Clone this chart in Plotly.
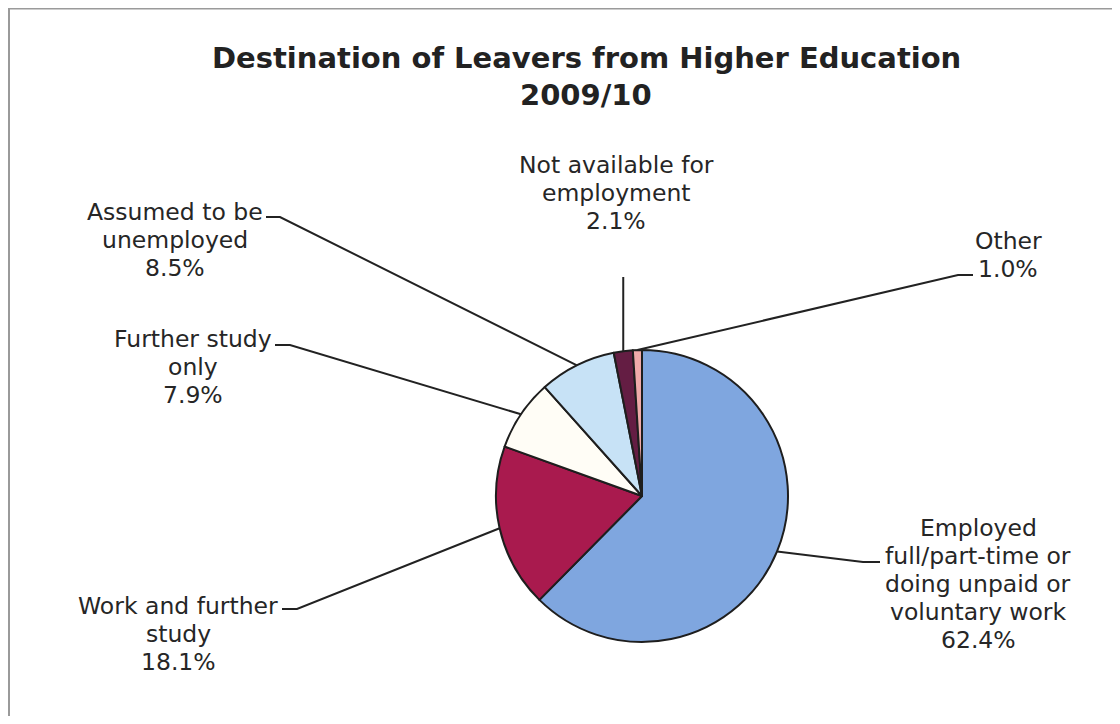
import math
import plotly.graph_objects as go

# ---- data ----
categories = [
    "Employed full/part-time or doing unpaid or voluntary work",
    "Work and further study",
    "Further study only",
    "Assumed to be unemployed",
    "Not available for employment",
    "Other",
]
values = [62.4, 18.1, 7.9, 8.5, 2.1, 1.0]
label_lines = [
    ["Employed", "full/part-time or", "doing unpaid or", "voluntary work"],
    ["Work and further", "study"],
    ["Further study", "only"],
    ["Assumed to be", "unemployed"],
    ["Not available for", "employment"],
    ["Other"],
]
colors = ["#7FA6DF", "#A91A4E", "#FFFDF6", "#C7E2F6", "#641D43", "#F0AAAA"]

# ---- layout helpers (window pixel positions; page body has an 8px margin) ----
OFF = 8
W, H = 1120 - 2 * OFF, 724 - 2 * OFF
CX, CY, R = 642, 496, 146


def px(x):
    return (x - OFF) / W


def py(y):
    return 1 - (y - OFF) / H


# label placement: (center x, first line y, leader elbow, leader end)
label_pos = [
    (978, 528, (863, 562), (880, 562)),
    (178, 606, (297, 609), (282, 609)),
    (193, 339, (290, 345), (275, 345)),
    (175, 212, (280, 217), (266, 217)),
    (616, 165, None, (None, 277)),
    (1008, 241, (958, 275), (973, 275)),
]
LINE_GAP = 28

fig = go.Figure()
fig.add_trace(go.Pie(
    labels=categories,
    values=values,
    sort=False,
    direction="clockwise",
    rotation=0,
    marker=dict(colors=colors, line=dict(color="#1e1e1e", width=2)),
    textinfo="none",
    hoverinfo="label+percent",
    showlegend=False,
    domain=dict(x=[px(CX - R), px(CX + R)], y=[py(CY + R), py(CY - R)]),
))

annotations = []
shapes = []
total = sum(values)
cum = 0.0
for i, v in enumerate(values):
    mid = (cum + v / 2) / total
    cum += v
    ang = 2 * math.pi * mid
    sx = CX + R * math.sin(ang)
    sy = CY - R * math.cos(ang)
    cx, y0, elbow, end = label_pos[i]
    lines = label_lines[i] + [f"{v:.1f}%"]
    for k, t in enumerate(lines):
        annotations.append(dict(
            x=px(cx), y=py(y0 + k * LINE_GAP), xref="paper", yref="paper",
            text=t, showarrow=False, xanchor="center", yanchor="middle",
            font=dict(family="DejaVu Sans", size=23.5, color="#262626"),
        ))
    if elbow is None:
        path = f"M {px(sx)},{py(sy)} L {px(sx)},{py(end[1])}"
    else:
        path = (f"M {px(sx)},{py(sy)} L {px(elbow[0])},{py(elbow[1])} "
                f"L {px(end[0])},{py(end[1])}")
    shapes.append(dict(type="path", xref="paper", yref="paper", path=path,
                       line=dict(color="#222222", width=2)))

# title
for k, t in enumerate(["Destination of Leavers from Higher Education", "2009/10"]):
    annotations.append(dict(
        x=px(586), y=py(58 + k * 37), xref="paper", yref="paper",
        text=f"<b>{t}</b>", showarrow=False, xanchor="center", yanchor="middle",
        font=dict(family="DejaVu Sans", size=29, color="#222222"),
    ))

# chart frame (left and top edges)
shapes.append(dict(type="line", xref="paper", yref="paper",
                   x0=px(9), y0=py(8), x1=px(9), y1=0,
                   line=dict(color="#9a9a9a", width=2)))
shapes.append(dict(type="line", xref="paper", yref="paper",
                   x0=px(9), y0=py(8.5), x1=1, y1=py(8.5),
                   line=dict(color="#9a9a9a", width=2)))

fig.update_layout(
    width=W, height=H,
    margin=dict(l=0, r=0, t=0, b=0),
    paper_bgcolor="white",
    plot_bgcolor="white",
    annotations=annotations,
    shapes=shapes,
)

fig.write_html("out.html")
